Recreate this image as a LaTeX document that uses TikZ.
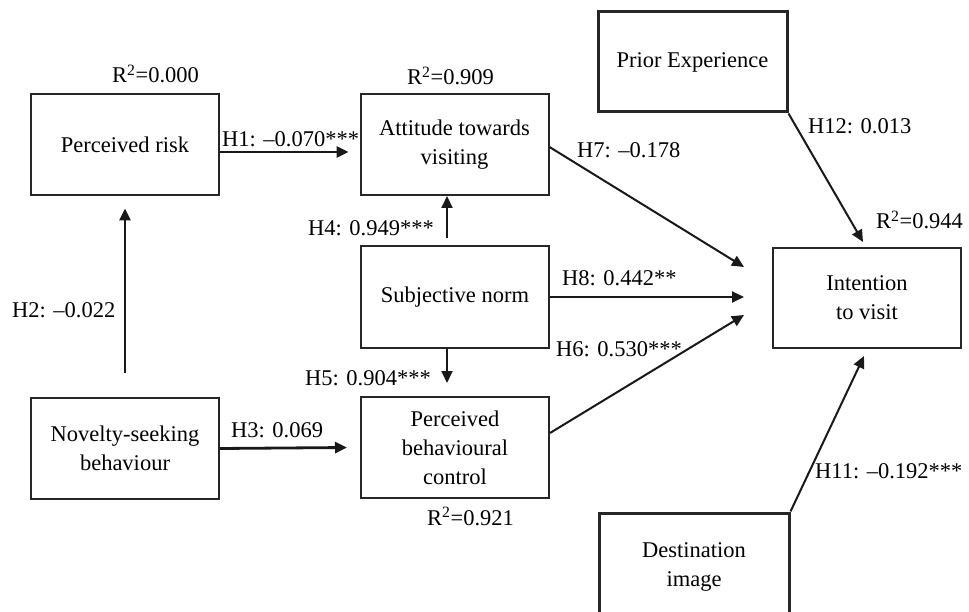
\documentclass[tikz,border=0pt]{standalone}
\usepackage{fontspec}
\setmainfont{Liberation Serif}
\usetikzlibrary{arrows.meta}
\begin{document}
\begin{tikzpicture}[x=1pt,y=-1pt,
  box/.style={draw=black!85, line width=2pt, align=center, inner sep=0pt,
    minimum width=188pt, minimum height=101pt, font=\fontsize{22.5}{29}\selectfont},
  thickbox/.style={box, line width=3pt},
  lbl/.style={anchor=base west, inner sep=0pt, font=\fontsize{22.5}{25}\selectfont},
  arr/.style={-{Triangle[length=12pt,width=11pt]}, line width=2pt, draw=black!90},
  thickarr/.style={arr, line width=2.8pt},
]
\useasboundingbox (0,0) rectangle (969,612);
\clip (0,0) rectangle (969,612);

% boxes
\node[box] (pr)  at (125,145)   {Perceived risk};
\node[box] (att) at (454.5,144.5) {Attitude towards\\visiting};
\node[thickbox, minimum width=189pt, minimum height=100pt] (pe) at (692.5,62) {Prior Experience};
\node[box, minimum height=100pt] (itv) at (867,298) {Intention\\to visit};
\node[box] (sn)  at (455,297)   {Subjective norm};
\node[box] (pbc) at (455,447.5) {Perceived\\behavioural\\control};
\node[box] (nsb) at (125,448.5) {Novelty-seeking\\behaviour};
\node[thickbox, minimum width=190pt, minimum height=108pt] (di) at (694,567) {Destination\\image};

% connectors
\coordinate (h2s) at (125,373);
\draw[thickarr] ([yshift=-7pt]pr.east) -- ([xshift=-11pt,yshift=-7.5pt]att.west);
\draw[thickarr] (h2s) -- ([yshift=-12pt]pr.south);
\draw[thickarr] (nsb.east) -- ([xshift=-13pt]pbc.west);
\draw[arr] ([xshift=-8pt,yshift=7pt]sn.north) -- ([xshift=-7.5pt]att.south);
\draw[arr] ([xshift=-8pt]sn.south) -- ([xshift=-8pt,yshift=13pt]pbc.north);
\draw[arr] ([yshift=-2.5pt]att.east) -- ([xshift=-28pt,yshift=31pt]itv.west);
\draw[arr] (sn.east) -- ([xshift=-28pt,yshift=1pt]itv.west);
\draw[arr] ([yshift=14.5pt]pbc.east) -- ([xshift=-28pt,yshift=-17pt]itv.west);
\draw[arr] (pe.south east) -- ([xshift=-4pt,yshift=5pt]itv.north);
\draw[arr] (di.north east) -- ([xshift=-3pt,yshift=-7pt]itv.south);

% labels
\node[lbl] (r0) at (112,83) {R\textsuperscript{2}=0.000};
\node[lbl] (r1) at (407,85) {R\textsuperscript{2}=0.909};
\node[lbl] (r4) at (876,229) {R\textsuperscript{2}=0.944};
\node[lbl] (r2) at (427,525) {R\textsuperscript{2}=0.921};
\node[lbl] (l1) at (222,147) {H1: –0.070***};
\node[lbl] (l2) at (12,318) {H2: –0.022};
\node[lbl] (l3) at (231,437) {H3: 0.069};
\node[lbl] (l4) at (308,236) {H4: 0.949***};
\node[lbl] (l5) at (305,385) {H5: 0.904***};
\node[lbl] (l7) at (577,158) {H7: –0.178};
\node[lbl] (l8) at (562,286) {H8: 0.442**};
\node[lbl] (l6) at (556,356) {H6: 0.530***};
\node[lbl] (l12) at (808,134) {H12: 0.013};
\node[lbl] (l11) at (815,478) {H11: –0.192***};
\end{tikzpicture}
\end{document}
